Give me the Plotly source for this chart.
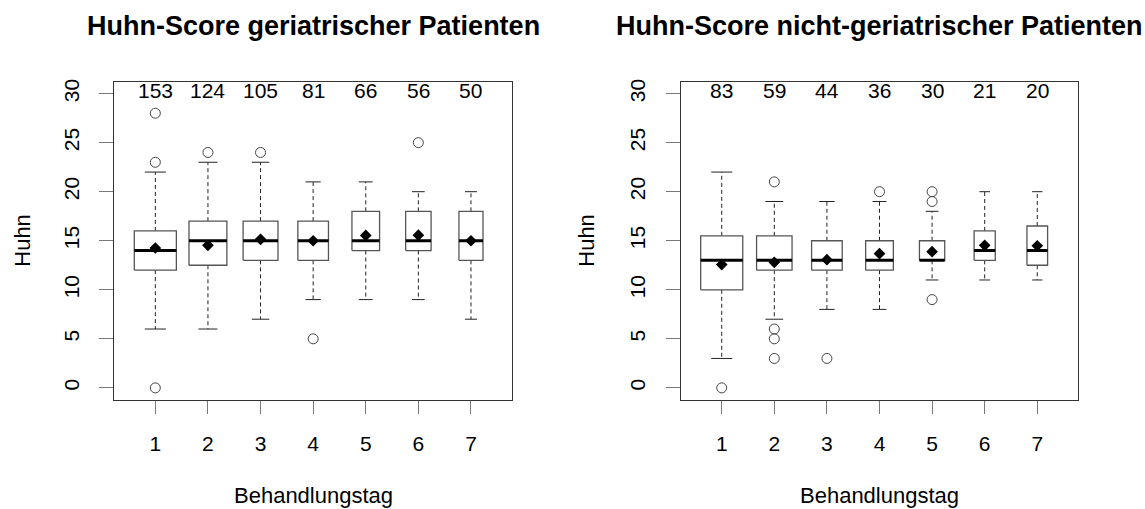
import plotly.graph_objects as go
import math

days = [1, 2, 3, 4, 5, 6, 7]

ger_n = [153, 124, 105, 81, 66, 56, 50]
ger_q1 = [12, 12.5, 13, 13, 14, 14, 13]
ger_med = [14, 15, 15, 15, 15, 15, 15]
ger_q3 = [16, 17, 17, 17, 18, 18, 18]
ger_lo = [6, 6, 7, 9, 9, 9, 7]
ger_hi = [22, 23, 23, 21, 21, 20, 20]
ger_mean = [14.26, 14.53, 15.14, 15.0, 15.54, 15.57, 15.0]
ger_out = [[28, 23, 0], [24], [24], [5], [], [25], []]

non_n = [83, 59, 44, 36, 30, 21, 20]
non_q1 = [10, 12, 12, 12, 13, 13, 12.5]
non_med = [13, 13, 13, 13, 13, 14, 14]
non_q3 = [15.5, 15.5, 15, 15, 15, 16, 16.5]
non_lo = [3, 7, 8, 8, 11, 11, 11]
non_hi = [22, 19, 19, 19, 18, 20, 20]
non_mean = [12.57, 12.8, 13.07, 13.68, 13.89, 14.53, 14.49]
non_out = [[0], [21, 6, 5, 3], [3], [20], [20, 19, 9], [], []]

titles = ["Huhn-Score geriatrischer Patienten", "Huhn-Score nicht-geriatrischer Patienten"]
x_title = "Behandlungstag"
y_title = "Huhn"
y_ticks = [0, 5, 10, 15, 20, 25, 30]

FONT = "Liberation Sans, Arial, sans-serif"
BOXWEX = 0.8
STAPLE = 0.5

fig = go.Figure()


def add_panel(xa, ya, n, q1, med, q3, lo, hi, mean, outs):
    smax = max(math.sqrt(v) for v in n)
    bx, by, mx, my, wx, wy, sx, sy, ox, oy = [], [], [], [], [], [], [], [], [], []
    for i, d in enumerate(days):
        hw = BOXWEX * math.sqrt(n[i]) / smax / 2
        sw = hw * STAPLE
        bx += [d - hw, d + hw, d + hw, d - hw, d - hw, None]
        by += [q1[i], q1[i], q3[i], q3[i], q1[i], None]
        mx += [d - hw, d + hw, None]
        my += [med[i], med[i], None]
        wx += [d, d, None, d, d, None]
        wy += [q3[i], hi[i], None, q1[i], lo[i], None]
        sx += [d - sw, d + sw, None, d - sw, d + sw, None]
        sy += [hi[i], hi[i], None, lo[i], lo[i], None]
        for o in outs[i]:
            ox.append(d)
            oy.append(o)
    common = dict(xaxis=xa, yaxis=ya, showlegend=False, hoverinfo="skip")
    fig.add_trace(go.Scatter(x=wx, y=wy, mode="lines",
                             line=dict(color="#222", width=1, dash="4px,3px"), **common))
    fig.add_trace(go.Scatter(x=sx, y=sy, mode="lines",
                             line=dict(color="#222", width=1), **common))
    fig.add_trace(go.Scatter(x=bx, y=by, mode="lines",
                             line=dict(color="#555", width=1.3), **common))
    fig.add_trace(go.Scatter(x=mx, y=my, mode="lines",
                             line=dict(color="black", width=3), **common))
    fig.add_trace(go.Scatter(x=ox, y=oy, mode="markers",
                             marker=dict(symbol="circle-open", size=10, color="#444",
                                         line=dict(width=1, color="#444")), **common))
    fig.add_trace(go.Scatter(x=days, y=mean, mode="markers",
                             marker=dict(symbol="diamond", size=9, color="black"), **common))


add_panel("x", "y", ger_n, ger_q1, ger_med, ger_q3, ger_lo, ger_hi, ger_mean, ger_out)
add_panel("x2", "y2", non_n, non_q1, non_med, non_q3, non_lo, non_hi, non_mean, non_out)

W, H = 1145, 509
xdoms = [[114.3 / W, 512 / W], [680.7 / W, 1078.3 / W]]
ydom = [(H - 399) / H, (H - 79.3) / H]

axis_common = dict(showgrid=False, zeroline=False, showline=True, mirror=True,
                   linecolor="#333", linewidth=1, ticks="outside", tickcolor="#777",
                   tickwidth=1, tickfont=dict(family=FONT, size=21, color="black"))

layout = dict(
    width=W, height=H, margin=dict(l=0, r=0, t=0, b=0),
    paper_bgcolor="white", plot_bgcolor="white",
    font=dict(family=FONT, color="black"),
)
annotations = []
counts = [ger_n, non_n]
for k in range(2):
    xs = "" if k == 0 else "2"
    layout["xaxis" + xs] = dict(axis_common, domain=xdoms[k], range=[0.22, 7.78],
                                tickvals=days, ticktext=[str(d) for d in days],
                                ticklen=13, ticklabelstandoff=12,
                                anchor="y" + xs)
    layout["yaxis" + xs] = dict(axis_common, domain=ydom, range=[-1.2, 31.2],
                                tickvals=y_ticks, ticktext=[str(t) for t in y_ticks],
                                tickangle=-90, ticklen=14, ticklabelstandoff=12,
                                anchor="x" + xs)
    cx = (xdoms[k][0] + xdoms[k][1]) / 2
    annotations.append(dict(text="<b>" + titles[k] + "</b>", xref="paper", yref="paper",
                            x=cx, y=(H - 23) / H, xanchor="center", yanchor="middle",
                            showarrow=False, font=dict(family=FONT, size=27, color="black")))
    annotations.append(dict(text=x_title, xref="paper", yref="paper",
                            x=cx, y=(H - 495) / H, xanchor="center", yanchor="middle",
                            showarrow=False, font=dict(family=FONT, size=22, color="black")))
    ylab_x = [23, 587][k]
    annotations.append(dict(text=y_title, xref="paper", yref="paper", textangle=-90,
                            x=ylab_x / W, y=(ydom[0] + ydom[1]) / 2, xanchor="center",
                            yanchor="middle", showarrow=False,
                            font=dict(family=FONT, size=22, color="black")))
    for i, d in enumerate(days):
        annotations.append(dict(text=str(counts[k][i]), xref="x" + xs, yref="y" + xs,
                                x=d, y=30, xanchor="center", yanchor="middle", yshift=3,
                                showarrow=False,
                                font=dict(family=FONT, size=21, color="black")))
layout["annotations"] = annotations
fig.update_layout(**layout)
fig.write_html("out.html")
